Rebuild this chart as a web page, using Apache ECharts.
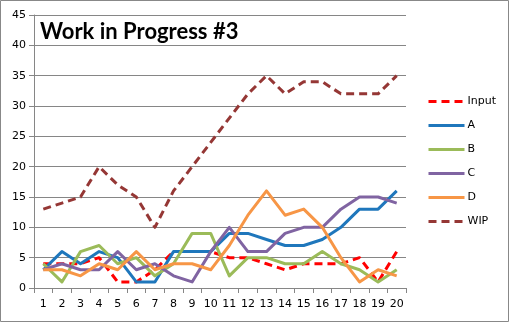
<!DOCTYPE html>
<html>
<head>
<meta charset="utf-8">
<script src="https://cdn.jsdelivr.net/npm/echarts@6/dist/echarts.min.js"></script>
<style>
  html, body { margin: 0; padding: 0; background: #fff; }
  #chart { width: 509px; height: 322px; }
</style>
</head>
<body>
<div id="chart"></div>
<script>
// Day numbers along the x axis
const days = ['1','2','3','4','5','6','7','8','9','10','11','12','13','14','15','16','17','18','19','20'];

// Work items per stage, per day
const input = [4, 4, 4, 5, 1, 1, 3, 6, 6, 6, 5, 5, 4, 3, 4, 4, 4, 5, 1, 6];
const stageA = [3, 6, 4, 6, 5, 1, 1, 6, 6, 6, 9, 9, 8, 7, 7, 8, 10, 13, 13, 16];
const stageB = [4, 1, 6, 7, 4, 5, 2, 4, 9, 9, 2, 5, 5, 4, 4, 6, 4, 3, 1, 3];
const stageC = [3, 4, 3, 3, 6, 3, 4, 2, 1, 6, 10, 6, 6, 9, 10, 10, 13, 15, 15, 14];
const stageD = [3, 3, 2, 4, 3, 6, 3, 4, 4, 3, 7, 12, 16, 12, 13, 10, 5, 1, 3, 2];
const wip = [13, 14, 15, 20, 17, 15, 10, 16, 20, 24, 28, 32, 35, 32, 34, 34, 32, 32, 32, 35];

const chart = echarts.init(document.getElementById('chart'));
const font = 'DejaVu Sans';

function line(name, data, color, dashed) {
  return {
    name: name,
    type: 'line',
    data: data,
    symbol: 'none',
    lineStyle: {
      color: color,
      width: 3,
      type: dashed ? [8, 5] : 'solid',
      cap: 'butt',
      join: 'round'
    },
    itemStyle: { color: color },
    animation: false
  };
}

chart.setOption({
  backgroundColor: '#fff',
  animation: false,
  title: {
    text: 'Work in Progress #3',
    left: 35,
    top: 16,
    textStyle: { fontFamily: 'Lato', fontWeight: 'bold', fontSize: 22, color: '#000' }
  },
  grid: { left: 34, right: 103, top: 15, bottom: 34, containLabel: false },
  legend: {
    orient: 'vertical',
    left: 422,
    top: 91,
    itemWidth: 36,
    itemHeight: 14,
    itemGap: 12.8,
    itemStyle: { opacity: 0 },
    lineStyle: { width: 3 },
    textStyle: { fontFamily: font, fontSize: 11, color: '#000', padding: [0, 0, 0, -2] },
    data: ['Input', 'A', 'B', 'C', 'D', 'WIP']
  },
  xAxis: {
    type: 'category',
    data: days,
    boundaryGap: true,
    axisLine: { lineStyle: { color: '#868686', width: 1 } },
    axisTick: { show: true, length: 5, lineStyle: { color: '#868686' } },
    axisLabel: { fontFamily: font, fontSize: 11, color: '#000', margin: 11 }
  },
  yAxis: {
    type: 'value',
    min: 0,
    max: 45,
    interval: 5,
    axisLine: { show: true, lineStyle: { color: '#868686', width: 1 } },
    axisTick: { show: true, length: 5, lineStyle: { color: '#868686' } },
    axisLabel: { fontFamily: font, fontSize: 11, color: '#000', margin: 8 },
    splitLine: { lineStyle: { color: '#868686', width: 1 } }
  },
  graphic: [{
    type: 'rect',
    shape: { x: 0.5, y: 0.5, width: 508, height: 321 },
    style: { fill: 'none', stroke: '#888', lineWidth: 1 },
    silent: true
  }],
  series: [
    line('Input', input, '#FF0000', true),
    line('A', stageA, '#1F77BC', false),
    line('B', stageB, '#9BBB59', false),
    line('C', stageC, '#8064A2', false),
    line('D', stageD, '#F79646', false),
    line('WIP', wip, '#953735', true)
  ]
});
</script>
</body>
</html>
